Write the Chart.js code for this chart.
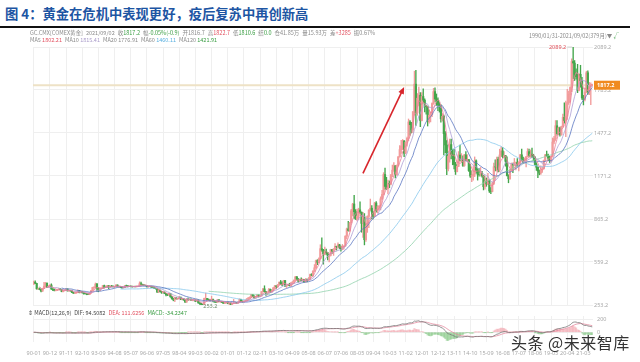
<!DOCTYPE html>
<html>
<head>
<meta charset="utf-8">
<script src="https://cdn.jsdelivr.net/npm/chart.js@4.4.1/dist/chart.umd.min.js"></script>
<style>
  html, body { margin: 0; padding: 0; background: #fff; }
  body {
    width: 640px; height: 362px; position: relative; overflow: hidden;
    font-family: "Noto Sans CJK SC", "Noto Sans", sans-serif;
  }
  #title {
    position: absolute; left: 5px; top: 4px; white-space: nowrap;
    font-size: 13.3px; font-weight: bold; color: #1d55a3; letter-spacing: 0;
  }
  #rule { position: absolute; left: 0; top: 26px; width: 630px; height: 2px; background: #111; }
  .tiny {
    position: absolute; white-space: nowrap; font-size: 5.5px; line-height: 7px;
    color: #8a8a8a; z-index: 2;
  }
  .tiny span { margin-right: 3px; }
  .tiny b { font-weight: normal; }
  .r { color: #e2505f; }
  .g { color: #3a9d43; }
  .b { color: #5ab0e0; }
  .p { color: #a99bc9; }
  .k { color: #444; }
  canvas { position: absolute; left: 0; }
  #main { top: 28px; }
  #macd { top: 306px; }
  #mark {
    position: absolute; left: 511px; top: 330px; font-size: 16px; color: #333;
    white-space: nowrap; z-index: 3; letter-spacing: 0.5px;
  }
</style>
</head>
<body>
<div id="title">图 4：黄金在危机中表现更好，疫后复苏中再创新高</div>
<div id="rule"></div>
<div class="tiny" style="left:30px;top:30px">
  <span>GC.CMX[COMEX黄金]</span><span>2021/09/02</span><span>收<b class="g">1817.2</b></span><span>幅<b class="g">-0.05%(-0.9)</b></span><span>开1816.7</span><span>高<b class="r">1822.7</b></span><span>低<b class="g">1810.6</b></span><span>结<b class="g">0.0</b></span><span>仓41.85万</span><span>量15.93万</span><span>差<b class="r">+3285</b></span><span>振0.67%</span>
</div>
<div class="tiny" style="left:30px;top:37px">
  <span>MA5 <b class="r">1802.21</b></span><span>MA10 <b class="p">1815.41</b></span><span>MA20 <b>1776.91</b></span><span>MA60 <b class="b">1460.11</b></span><span>MA120 <b class="g">1421.91</b></span>
</div>
<div class="tiny" style="left:529px;top:33px">1990/01/31-2021/09/02(379月)▼ <b class="g">√</b></div>
<div class="tiny" style="left:28px;top:310px">
  <span class="k">⇕ MACD(12,26,9)</span><span class="k">DIF: 94.5082</span><span class="r">DEA: 111.6256</span><span class="g">MACD: -34.2347</span>
</div>
<canvas id="main" width="640" height="282"></canvas>
<canvas id="macd" width="640" height="56"></canvas>
<div id="mark">头条 @未来智库</div>

<script>
const open = [
  401, 415, 407, 368, 368, 363, 352, 372, 387, 408, 380, 384,
  395, 367, 363, 356, 358, 362, 368, 363, 348, 355, 358, 367,
  354, 355, 354, 342, 337, 338, 344, 357, 341, 350, 340, 335,
  333, 331, 328, 339, 355, 378, 378, 402, 372, 356, 370, 371,
  392, 378, 382, 391, 377, 388, 386, 385, 386, 395, 384, 384,
  383, 375, 377, 391, 390, 385, 387, 384, 383, 384, 383, 387,
  388, 405, 401, 396, 392, 391, 382, 386, 387, 380, 379, 372,
  370, 345, 359, 349, 340, 345, 335, 326, 325, 333, 312, 297,
  290, 304, 298, 301, 309, 293, 297, 289, 274, 294, 292, 294,
  288, 288, 288, 280, 287, 268, 262, 256, 255, 300, 300, 292,
  290, 284, 294, 278, 274, 273, 290, 277, 279, 274, 265, 271,
  274, 266, 267, 258, 265, 268, 271, 266, 274, 294, 280, 275,
  279, 283, 297, 304, 309, 327, 317, 304, 313, 325, 317, 318,
  348, 368, 348, 336, 340, 365, 347, 355, 376, 389, 385, 398,
  416, 403, 397, 427, 388, 394, 395, 391, 408, 416, 429, 453,
  438, 422, 435, 429, 435, 418, 437, 430, 434, 470, 465, 495,
  518, 569, 557, 583, 654, 644, 617, 633, 624, 600, 606, 648,
  636, 652, 671, 669, 682, 660, 650, 666, 673, 743, 795, 783,
  838, 924, 972, 917, 865, 886, 930, 914, 834, 880, 718, 816,
  884, 928, 942, 916, 884, 979, 927, 954, 955, 1009, 1040, 1182,
  1097, 1081, 1118, 1113, 1180, 1213, 1244, 1181, 1248, 1308, 1359, 1385,
  1421, 1333, 1411, 1439, 1556, 1536, 1500, 1628, 1825, 1620, 1725, 1746,
  1566, 1737, 1711, 1669, 1664, 1560, 1604, 1610, 1687, 1772, 1719, 1711,
  1675, 1663, 1578, 1596, 1472, 1392, 1223, 1312, 1395, 1327, 1323, 1253,
  1202, 1240, 1321, 1284, 1291, 1246, 1322, 1282, 1287, 1210, 1171, 1175,
  1184, 1279, 1212, 1183, 1182, 1190, 1172, 1095, 1132, 1114, 1142, 1065,
  1061, 1117, 1237, 1235, 1291, 1215, 1321, 1350, 1309, 1316, 1276, 1173,
  1152, 1212, 1253, 1249, 1268, 1269, 1242, 1269, 1322, 1284, 1271, 1275,
  1309, 1345, 1318, 1327, 1315, 1305, 1253, 1233, 1207, 1192, 1215, 1222,
  1283, 1322, 1316, 1298, 1285, 1311, 1413, 1437, 1529, 1473, 1514, 1465,
  1523, 1589, 1566, 1597, 1694, 1751, 1801, 1986, 1975, 1895, 1879, 1780,
  1895, 1850, 1728, 1714, 1769, 1906, 1771, 1817, 1816.7,
];
const high = [
  424, 425, 408, 376, 375, 366, 373, 414, 414, 411, 390, 397,
  404, 370, 366, 361, 363, 370, 372, 364, 357, 362, 369, 368,
  360, 358, 355, 344, 340, 346, 362, 358, 352, 351, 342, 337,
  335, 334, 340, 357, 380, 384, 410, 408, 377, 372, 374, 394,
  395, 384, 393, 391, 390, 393, 389, 388, 399, 397, 387, 386,
  386, 379, 393, 395, 391, 390, 390, 388, 387, 387, 390, 390,
  418, 416, 401, 397, 394, 392, 388, 392, 388, 385, 382, 373,
  370, 365, 359, 349, 347, 346, 336, 331, 336, 333, 314, 301,
  306, 305, 302, 315, 310, 299, 298, 290, 300, 302, 299, 297,
  292, 291, 290, 292, 290, 269, 265, 260, 303, 338, 301, 296,
  292, 316, 295, 283, 278, 293, 291, 281, 279, 276, 272, 275,
  275, 268, 269, 265, 293, 276, 271, 276, 297, 294, 283, 281,
  290, 299, 306, 311, 329, 330, 318, 314, 326, 326, 320, 349,
  371, 390, 350, 341, 372, 367, 360, 378, 394, 392, 399, 417,
  428, 419, 429, 428, 395, 398, 408, 415, 420, 433, 457, 457,
  442, 437, 447, 439, 436, 442, 437, 449, 473, 476, 497, 541,
  572, 576, 588, 682, 732, 650, 665, 652, 628, 613, 650, 649,
  654, 690, 672, 695, 685, 672, 684, 675, 746, 800, 848, 842,
  934, 976, 1033, 932, 936, 942, 987, 915, 913, 904, 832, 888,
  932, 1007, 960, 916, 984, 990, 960, 963, 1023, 1070, 1195, 1227,
  1162, 1142, 1136, 1181, 1249, 1266, 1246, 1249, 1309, 1388, 1425, 1431,
  1424, 1413, 1448, 1577, 1566, 1553, 1632, 1917, 1923, 1758, 1804, 1765,
  1764, 1792, 1720, 1676, 1668, 1640, 1627, 1692, 1795, 1798, 1755, 1727,
  1694, 1679, 1616, 1605, 1488, 1424, 1348, 1434, 1434, 1362, 1361, 1268,
  1280, 1345, 1392, 1331, 1315, 1325, 1345, 1323, 1290, 1255, 1208, 1238,
  1307, 1287, 1224, 1224, 1232, 1205, 1175, 1170, 1157, 1191, 1143, 1088,
  1128, 1263, 1287, 1306, 1305, 1362, 1378, 1375, 1345, 1318, 1308, 1180,
  1220, 1264, 1263, 1296, 1270, 1296, 1274, 1326, 1362, 1306, 1300, 1310,
  1366, 1362, 1357, 1369, 1326, 1309, 1266, 1237, 1214, 1243, 1237, 1285,
  1326, 1349, 1327, 1311, 1313, 1442, 1453, 1566, 1566, 1519, 1519, 1526,
  1611, 1692, 1704, 1788, 1775, 1805, 2005, 2089.2, 1993, 1933, 1966, 1900,
  1959, 1873, 1745, 1799, 1917, 1919, 1837, 1834, 1822.7,
];
const low = [
  400, 405, 366, 364, 361, 346, 350, 370, 384, 376, 377, 376,
  364, 356, 353, 354, 355, 360, 360, 347, 347, 353, 357, 352,
  350, 351, 341, 335, 334, 337, 343, 339, 340, 339, 331, 332,
  326, 326, 327, 337, 354, 364, 375, 350, 347, 355, 366, 370,
  374, 377, 377, 370, 376, 383, 380, 376, 385, 382, 378, 377,
  373, 373, 376, 387, 381, 384, 382, 380, 381, 381, 382, 385,
  387, 395, 393, 390, 389, 381, 380, 385, 378, 377, 369, 366,
  342, 342, 346, 336, 339, 334, 317, 320, 321, 308, 295, 283,
  277, 295, 292, 300, 292, 289, 287, 272, 272, 286, 290, 285,
  283, 282, 277, 278, 266, 258, 253.2, 254, 255, 292, 287, 284,
  281, 282, 276, 273, 269, 272, 275, 271, 270, 264, 263, 267,
  263, 255, 255, 256, 263, 265, 265, 264, 271, 278, 271, 273,
  278, 282, 288, 297, 306, 312, 301, 301, 311, 310, 314, 316,
  347, 345, 322, 325, 338, 342, 343, 354, 370, 372, 378, 397,
  399, 390, 396, 386, 378, 390, 388, 385, 401, 407, 424, 431,
  416, 418, 425, 421, 415, 416, 418, 429, 432, 460, 457, 491,
  513, 540, 553, 580, 635, 543, 610, 613, 574, 560, 602, 620,
  606, 647, 644, 667, 655, 637, 646, 651, 670, 725, 778, 776,
  835, 888, 870, 862, 851, 861, 905, 771, 735, 681, 705, 770,
  803, 927, 866, 865, 882, 913, 908, 930, 930, 1003, 1036, 1075,
  1075, 1044, 1088, 1108, 1166, 1203, 1157, 1175, 1242, 1306, 1331, 1359,
  1308, 1331, 1383, 1423, 1462, 1478, 1479, 1604, 1532, 1603, 1670, 1522,
  1563, 1692, 1627, 1612, 1527, 1547, 1556, 1593, 1681, 1698, 1672, 1636,
  1626, 1555, 1562, 1321, 1338, 1180, 1208, 1270, 1292, 1251, 1221, 1182,
  1200, 1238, 1277, 1268, 1240, 1240, 1280, 1272, 1204, 1161, 1131, 1142,
  1167, 1192, 1142, 1170, 1170, 1162, 1072, 1077, 1098, 1111, 1054, 1046,
  1058, 1110, 1208, 1206, 1200, 1201, 1310, 1302, 1305, 1241, 1171, 1123,
  1146, 1208, 1195, 1245, 1214, 1240, 1208, 1258, 1282, 1260, 1264, 1236,
  1307, 1307, 1303, 1302, 1282, 1250, 1211, 1160, 1180, 1182, 1196, 1221,
  1276, 1311, 1281, 1267, 1273, 1306, 1400, 1424, 1462, 1465, 1454, 1461,
  1518, 1547, 1451, 1574, 1681, 1699, 1772, 1863, 1851, 1860, 1764, 1777,
  1803, 1717, 1677, 1706, 1763, 1751, 1750, 1679, 1810.6,
];
const close = [
  415, 407, 368, 368, 363, 352, 372, 387, 408, 380, 384, 395,
  367, 363, 356, 358, 362, 368, 363, 348, 355, 358, 367, 354,
  355, 354, 342, 337, 338, 344, 357, 341, 350, 340, 335, 333,
  331, 328, 339, 355, 378, 378, 402, 372, 356, 370, 371, 392,
  378, 382, 391, 377, 388, 386, 385, 386, 395, 384, 384, 383,
  375, 377, 391, 390, 385, 387, 384, 383, 384, 383, 387, 388,
  405, 401, 396, 392, 391, 382, 386, 387, 380, 379, 372, 370,
  345, 359, 349, 340, 345, 335, 326, 325, 333, 312, 297, 290,
  304, 298, 301, 309, 293, 297, 289, 274, 294, 292, 294, 288,
  288, 288, 280, 287, 268, 262, 256, 255, 300, 300, 292, 290,
  284, 294, 278, 274, 273, 290, 277, 279, 274, 265, 271, 274,
  266, 267, 258, 265, 268, 271, 266, 274, 294, 280, 275, 279,
  283, 297, 304, 309, 327, 317, 304, 313, 325, 317, 318, 348,
  368, 348, 336, 340, 365, 347, 355, 376, 389, 385, 398, 416,
  403, 397, 427, 388, 394, 395, 391, 408, 416, 429, 453, 438,
  422, 435, 429, 435, 418, 437, 430, 434, 470, 465, 495, 518,
  569, 557, 583, 654, 644, 617, 633, 624, 600, 606, 648, 636,
  652, 671, 669, 682, 660, 650, 666, 673, 743, 795, 783, 838,
  924, 972, 917, 865, 886, 930, 914, 834, 880, 718, 816, 884,
  928, 942, 916, 884, 979, 927, 954, 955, 1009, 1040, 1182, 1097,
  1081, 1118, 1113, 1180, 1213, 1244, 1181, 1248, 1308, 1359, 1385, 1421,
  1333, 1411, 1439, 1556, 1536, 1500, 1628, 1825, 1620, 1725, 1746, 1566,
  1737, 1711, 1669, 1664, 1560, 1604, 1610, 1687, 1772, 1719, 1711, 1675,
  1663, 1578, 1596, 1472, 1392, 1223, 1312, 1395, 1327, 1323, 1253, 1202,
  1240, 1321, 1284, 1291, 1246, 1322, 1282, 1287, 1210, 1171, 1175, 1184,
  1279, 1212, 1183, 1182, 1190, 1172, 1095, 1132, 1114, 1142, 1065, 1061,
  1117, 1237, 1235, 1291, 1215, 1321, 1350, 1309, 1316, 1276, 1173, 1152,
  1212, 1253, 1249, 1268, 1269, 1242, 1269, 1322, 1284, 1271, 1275, 1309,
  1345, 1318, 1327, 1315, 1305, 1253, 1233, 1207, 1192, 1215, 1222, 1283,
  1322, 1316, 1298, 1285, 1311, 1413, 1437, 1529, 1473, 1514, 1465, 1523,
  1589, 1566, 1597, 1694, 1751, 1801, 1986, 1975, 1895, 1879, 1780, 1895,
  1850, 1728, 1714, 1769, 1906, 1771, 1817, 1818, 1817.2,
];

const tickLabels = [
  '90-01', '90-12', '91-11', '92-10', '93-09', '94-08', '95-07', '96-06',
  '97-05', '98-04', '99-03', '00-02', '01-01', '01-12', '02-11', '03-10',
  '04-09', '05-08', '06-07', '07-06', '08-05', '09-04', '10-03', '11-02',
  '12-01', '12-12', '13-11', '14-10', '15-09', '16-08', '17-07', '18-06',
  '19-05', '20-04', '21-03',
];
const priceTicks = [253.2, 559.2, 865.2, 1171.2, 1477.2, 1783.2, 2089.2];
const macdTicks = [0, 200];
const maPeriods = [5, 10, 20, 60, 120];
const maColors = ['#ea7d98', '#ad9fd6', '#5a76c2', '#86c8ec', '#8fd2ab'];
const arrowFrom = { month: '08-09', price: 1190 };
const arrowTo = { month: '11-01', price: 1805 };

// monthly categories 1990-01 .. 2021-09
const months = [];
for (let y = 1990; months.length < close.length; y++) {
  for (let m = 1; m <= 12 && months.length < close.length; m++) {
    months.push(`${String(y % 100).padStart(2, '0')}-${String(m).padStart(2, '0')}`);
  }
}

const UP = '#f29b9b';
const DOWN = '#43a64b';
const isUp = close.map((c, i) => c >= open[i]);
const candleColors = isUp.map((u) => (u ? UP : DOWN));

function movingAverage(n) {
  return close.map((_, i) => {
    if (i < n - 1) return null;
    let sum = 0;
    for (let k = i - n + 1; k <= i; k++) sum += close[k];
    return sum / n;
  });
}

function ema(values, n) {
  const k = 2 / (n + 1);
  const out = [];
  values.forEach((v, i) => {
    out.push(i === 0 ? v : out[i - 1] + k * (v - out[i - 1]));
  });
  return out;
}

const ema12 = ema(close, 12);
const ema26 = ema(close, 26);
const dif = ema12.map((v, i) => v - ema26[i]);
const dea = ema(dif, 9);
const macdHist = dif.map((v, i) => 2 * (v - dea[i]));

Chart.defaults.font.family = '"Noto Sans", "Noto Sans CJK SC", sans-serif';
Chart.defaults.color = '#a0a0a0';

const GRID = '#efefef';
const gridEvery11 = (c) => (c.index % 11 === 0 ? GRID : 'rgba(0,0,0,0)');

const mainOverlay = {
  id: 'mainOverlay',
  beforeDatasetsDraw(chart) {
    const { ctx, chartArea: a, scales: { y } } = chart;
    const py = y.getPixelForValue(close[close.length - 1]);
    ctx.save();
    ctx.strokeStyle = '#eee2c6';
    ctx.lineWidth = 2;
    ctx.beginPath();
    ctx.moveTo(a.left, py);
    ctx.lineTo(a.right, py);
    ctx.stroke();
    ctx.restore();
  },
  afterDraw(chart) {
    const { ctx, chartArea: a, scales: { x, y } } = chart;
    ctx.save();

    // highest high marker
    const hi = high.indexOf(Math.max(...high));
    const hx = x.getPixelForValue(hi);
    const hy = y.getPixelForValue(high[hi]);
    ctx.strokeStyle = '#bbb';
    ctx.lineWidth = 0.6;
    ctx.beginPath();
    ctx.moveTo(hx - 1, hy);
    ctx.lineTo(hx - 6, hy);
    ctx.stroke();
    ctx.font = '5.5px "Noto Sans"';
    ctx.fillStyle = '#e0505a';
    ctx.textAlign = 'right';
    ctx.textBaseline = 'middle';
    ctx.fillText(high[hi].toFixed(1), hx - 7, hy);

    // lowest low marker
    const lo = low.indexOf(Math.min(...low));
    const lx = x.getPixelForValue(lo);
    const ly = y.getPixelForValue(low[lo]);
    ctx.fillStyle = '#6a8a6a';
    ctx.textAlign = 'left';
    ctx.fillText(low[lo].toFixed(1), lx + 2, ly + 1);

    // current price badge
    const last = close[close.length - 1];
    const py = y.getPixelForValue(last);
    ctx.fillStyle = '#f08a1e';
    ctx.fillRect(a.right + 1, py - 4.5, 26, 9);
    ctx.fillStyle = '#fff';
    ctx.font = 'bold 5.5px "Noto Sans"';
    ctx.textAlign = 'left';
    ctx.fillText(last.toFixed(1), a.right + 4, py + 0.5);

    // red arrow
    const x0 = x.getPixelForValue(months.indexOf(arrowFrom.month));
    const y0 = y.getPixelForValue(arrowFrom.price);
    const x1 = x.getPixelForValue(months.indexOf(arrowTo.month));
    const y1 = y.getPixelForValue(arrowTo.price);
    const ang = Math.atan2(y1 - y0, x1 - x0);
    ctx.strokeStyle = '#d8262c';
    ctx.fillStyle = '#d8262c';
    ctx.lineWidth = 1.6;
    ctx.beginPath();
    ctx.moveTo(x0, y0);
    ctx.lineTo(x1 - 5 * Math.cos(ang), y1 - 5 * Math.sin(ang));
    ctx.stroke();
    ctx.beginPath();
    ctx.moveTo(x1, y1);
    ctx.lineTo(x1 - 7 * Math.cos(ang) + 3 * Math.sin(ang), y1 - 7 * Math.sin(ang) - 3 * Math.cos(ang));
    ctx.lineTo(x1 - 7 * Math.cos(ang) - 3 * Math.sin(ang), y1 - 7 * Math.sin(ang) + 3 * Math.cos(ang));
    ctx.closePath();
    ctx.fill();
    ctx.restore();
  },
};

const maDatasets = maPeriods.map((n, i) => ({
  type: 'line',
  label: `MA${n}`,
  data: movingAverage(n),
  borderColor: maColors[i],
  borderWidth: 0.8,
  pointRadius: 0,
  tension: 0,
}));

new Chart(document.getElementById('main'), {
  type: 'bar',
  data: {
    labels: months,
    datasets: [
      ...maDatasets,
      {
        label: 'body',
        data: months.map((_, i) => [open[i], close[i]]),
        backgroundColor: candleColors,
        barThickness: 1.5,
        grouped: false,
      },
      {
        label: 'wick',
        data: months.map((_, i) => [low[i], high[i]]),
        backgroundColor: candleColors,
        barThickness: 0.7,
        grouped: false,
      },
    ],
  },
  options: {
    responsive: false,
    animation: false,
    events: [],
    layout: { padding: { left: 33, right: 0, top: 19, bottom: 5 } },
    plugins: { legend: { display: false }, tooltip: { enabled: false } },
    scales: {
      x: {
        offset: true,
        ticks: { display: false, autoSkip: false },
        grid: { offset: false, drawTicks: false, color: gridEvery11 },
        border: { display: false },
        afterFit: (s) => { s.height = 0; },
      },
      y: {
        position: 'right',
        min: priceTicks[0],
        max: priceTicks[priceTicks.length - 1],
        afterBuildTicks: (s) => { s.ticks = priceTicks.map((v) => ({ value: v })); },
        ticks: {
          font: { size: 5.5 },
          color: '#a8a8a8',
          padding: 1,
          callback: (v) => Number(v).toFixed(1),
        },
        grid: { color: GRID, drawTicks: false },
        border: { display: false },
        afterFit: (s) => { s.width = 47; },
      },
    },
  },
  plugins: [mainOverlay],
});

new Chart(document.getElementById('macd'), {
  type: 'bar',
  data: {
    labels: months,
    datasets: [
      {
        type: 'line',
        label: 'DIF',
        data: dif,
        borderColor: '#777',
        borderWidth: 0.8,
        pointRadius: 0,
      },
      {
        type: 'line',
        label: 'DEA',
        data: dea,
        borderColor: '#e58aa0',
        borderWidth: 0.8,
        pointRadius: 0,
      },
      {
        label: 'MACD',
        data: macdHist,
        backgroundColor: macdHist.map((v) => (v >= 0 ? 'rgba(238,140,150,0.45)' : 'rgba(90,180,90,0.45)')),
        barThickness: 1.4,
      },
    ],
  },
  options: {
    responsive: false,
    animation: false,
    events: [],
    layout: { padding: { left: 33, right: 0, top: 10, bottom: 0 } },
    plugins: { legend: { display: false }, tooltip: { enabled: false } },
    scales: {
      x: {
        offset: true,
        ticks: {
          autoSkip: false,
          maxRotation: 0,
          minRotation: 0,
          padding: 8,
          font: { size: 5.5 },
          color: '#a8a8a8',
          callback: (v, i) => (tickLabels.includes(months[i]) ? months[i] : ''),
        },
        grid: { offset: false, drawTicks: false, color: gridEvery11 },
        border: { display: false },
        afterFit: (s) => { s.height = 20; },
      },
      y: {
        position: 'right',
        min: -150,
        max: 250,
        afterBuildTicks: (s) => { s.ticks = macdTicks.map((v) => ({ value: v })); },
        ticks: { font: { size: 5.5 }, color: '#a8a8a8', padding: 4 },
        grid: { color: GRID, drawTicks: false },
        border: { display: false },
        afterFit: (s) => { s.width = 47; },
      },
    },
  },
});
</script>
</body>
</html>
